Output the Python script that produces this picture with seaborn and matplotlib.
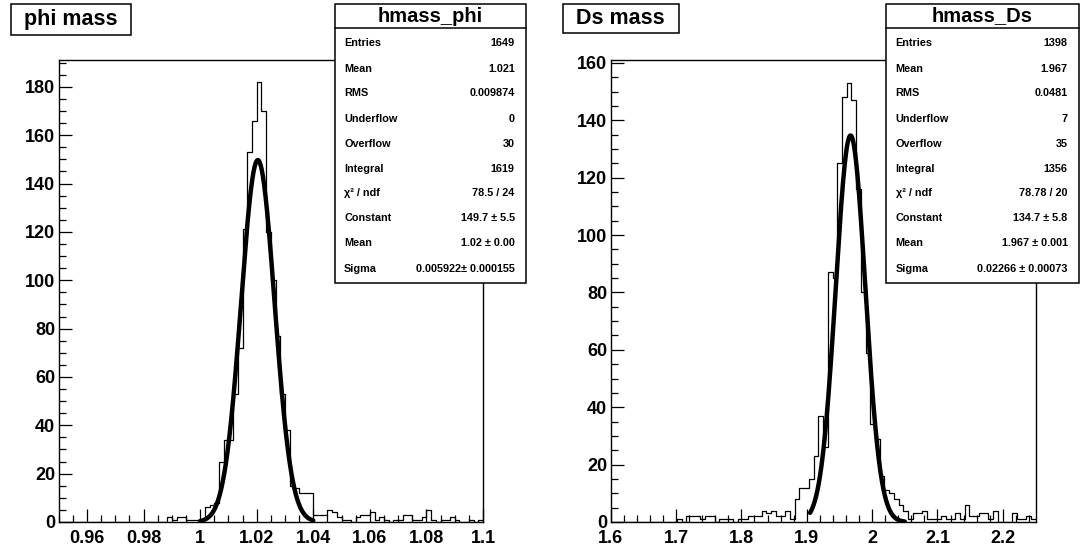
import numpy as np
import pandas as pd
import matplotlib
matplotlib.use("Agg")
import matplotlib.pyplot as plt
from matplotlib.patches import Rectangle
from matplotlib.ticker import MultipleLocator, FuncFormatter
import seaborn as sns

W, H = 1080, 548

# --- phi mass histogram (90 bins, 0.95 - 1.10) ---
phi_range = (0.95, 1.10)
phi_counts = ([0] * 23
              + [2, 1, 2, 2, 1, 1, 1, 1]
              + [6, 7, 8, 25, 34, 34, 53, 72, 121, 153, 166, 182, 170, 120, 100,
                 77, 53, 38, 15, 14, 12, 12, 12]
              + [3, 3, 3, 5, 4, 2, 1, 1, 0, 2, 3, 3, 4, 1, 2, 1, 0, 1, 1, 3, 3, 1,
                 1, 2, 5, 1, 0, 1, 1, 2, 1, 0, 0, 1, 0, 1])
phi_fit = dict(const=149.7, mean=1.0204, sigma=0.005922, lo=1.0, hi=1.04)
phi_stats = [("Entries", "1649"), ("Mean", "1.021"), ("RMS", "0.009874"),
             ("Underflow", "0"), ("Overflow", "30"), ("Integral", "1619"),
             ("\u03c7\u00b2 / ndf", "78.5 / 24"), ("Constant", "149.7 \u00b1 5.5"),
             ("Mean", "1.02 \u00b1 0.00"), ("Sigma", "0.005922\u00b1 0.000155")]

# --- Ds mass histogram (90 bins, 1.60 - 2.25) ---
ds_range = (1.60, 2.25)
ds_counts = ([0] * 14
             + [1, 0, 2, 2, 2, 1, 2, 2, 0, 1, 1, 1, 0, 1, 1, 2, 2, 2, 4, 3, 4, 2,
                2, 4, 1]
             + [8, 12, 12, 15, 23, 37, 26, 87, 85, 125, 148, 153, 147, 116, 80,
                59, 34, 29, 16, 11, 10, 8, 6, 4]
             + [1, 3, 3, 4, 1, 1, 1, 2, 1, 1, 3, 1, 6, 2, 2, 3, 3, 1, 4, 0, 0, 0,
                3, 1, 1, 2, 1])
ds_fit = dict(const=134.7, mean=1.967, sigma=0.02266, lo=1.905, hi=2.05)
ds_stats = [("Entries", "1398"), ("Mean", "1.967"), ("RMS", "0.0481"),
            ("Underflow", "7"), ("Overflow", "35"), ("Integral", "1356"),
            ("\u03c7\u00b2 / ndf", "78.78 / 20"), ("Constant", "134.7 \u00b1 5.8"),
            ("Mean", "1.967 \u00b1 0.001"), ("Sigma", "0.02266 \u00b1 0.00073")]

sns.set_style("white")
plt.rcParams["font.family"] = ["Liberation Sans", "DejaVu Sans"]
plt.rcParams["font.weight"] = "bold"
plt.rcParams["text.color"] = "black"
plt.rcParams["axes.labelcolor"] = "black"

fig = plt.figure(figsize=(W / 100, H / 100), dpi=100)


def px_box(x0, y0, x1, y1):
    return [x0 / W, 1 - y1 / H, (x1 - x0) / W, (y1 - y0) / H]


def draw_panel(rect, rng, counts, fit, ymax, xmajor, xminor):
    ax = fig.add_axes(px_box(*rect))
    nb = len(counts)
    width = (rng[1] - rng[0]) / nb
    centers = rng[0] + width * (np.arange(nb) + 0.5)
    df = pd.DataFrame({"mass": centers, "n": np.asarray(counts, dtype=float)})
    sns.histplot(data=df, x="mass", weights="n", bins=nb, binrange=rng,
                 element="step", fill=False, color="black", linewidth=0.9,
                 ax=ax)
    # gaussian fit curve from the fitted parameters
    xs = np.linspace(fit["lo"], fit["hi"], 300)
    ys = fit["const"] * np.exp(-0.5 * ((xs - fit["mean"]) / fit["sigma"]) ** 2)
    sns.lineplot(x=xs, y=ys, color="black", linewidth=3.2, ax=ax)
    ax.set_xlim(*rng)
    ax.set_ylim(0, ymax)
    ax.set_xlabel("")
    ax.set_ylabel("")
    ax.xaxis.set_major_locator(MultipleLocator(xmajor))
    ax.xaxis.set_minor_locator(MultipleLocator(xminor))
    ax.yaxis.set_major_locator(MultipleLocator(20))
    ax.yaxis.set_minor_locator(MultipleLocator(5))
    ax.xaxis.set_major_formatter(FuncFormatter(lambda v, p: f"{round(v, 4):g}"))
    ax.tick_params(which="both", direction="in", bottom=True, left=True,
                   top=False, right=False, width=0.9, color="black",
                   labelcolor="black", labelsize=13)
    ax.tick_params(which="major", length=9.4)
    ax.tick_params(which="minor", length=5)
    ax.tick_params(axis="x", which="major", pad=5.5)
    ax.tick_params(axis="y", which="major", pad=2.5)
    for lab in ax.get_xticklabels() + ax.get_yticklabels():
        lab.set_fontweight("bold")
    for s in ax.spines.values():
        s.set_linewidth(1.0)
        s.set_color("black")
    return ax


def draw_title(rect, text):
    x0, y0, x1, y1 = rect
    fig.add_artist(Rectangle((x0 / W, 1 - y1 / H), (x1 - x0) / W, (y1 - y0) / H,
                             transform=fig.transFigure, facecolor="white",
                             edgecolor="black", linewidth=1.1, zorder=10))
    fig.text((x0 + x1) / 2 / W, 1 - (y0 + y1) / 2 / H, text, ha="center",
             va="center", fontsize=15.5, fontweight="bold", color="black",
             zorder=11)


def draw_stats(rect, name, rows):
    x0, y0, x1, y1 = rect
    fig.add_artist(Rectangle((x0 / W, 1 - y1 / H), (x1 - x0) / W, (y1 - y0) / H,
                             transform=fig.transFigure, facecolor="white",
                             edgecolor="black", linewidth=1.1, zorder=10))
    fig.add_artist(plt.Line2D([x0 / W, x1 / W], [1 - 28.3 / H, 1 - 28.3 / H],
                              transform=fig.transFigure, color="black",
                              linewidth=1.1, zorder=11))
    fig.text((x0 + x1) / 2 / W, 1 - 16 / H, name, ha="center", va="center",
             fontsize=14.5, fontweight="bold", color="black", zorder=11)
    for i, (lab, val) in enumerate(rows):
        yy = 1 - (43.5 + i * 25.0) / H
        fig.text((x0 + 9.5) / W, yy, lab, ha="left", va="center",
                 fontsize=7.8, fontweight="bold", color="black", zorder=11)
        fig.text((x1 - 11) / W, yy, val, ha="right", va="center",
                 fontsize=7.8, fontweight="bold", color="black", zorder=11)


draw_panel((58.7, 60, 483, 522), phi_range, phi_counts, phi_fit, 191.1,
           0.02, 0.005)
draw_panel((610.7, 60, 1035.5, 522), ds_range, ds_counts, ds_fit, 161,
           0.1, 0.02)

draw_title((11.4, 4.5, 131, 35), "phi mass")
draw_title((563, 4.5, 678.6, 33.3), "Ds mass")
draw_stats((334.7, 4, 525.7, 282.7), "hmass_phi", phi_stats)
draw_stats((886, 4, 1078.5, 282.7), "hmass_Ds", ds_stats)

fig.savefig("out.png", dpi=100)
